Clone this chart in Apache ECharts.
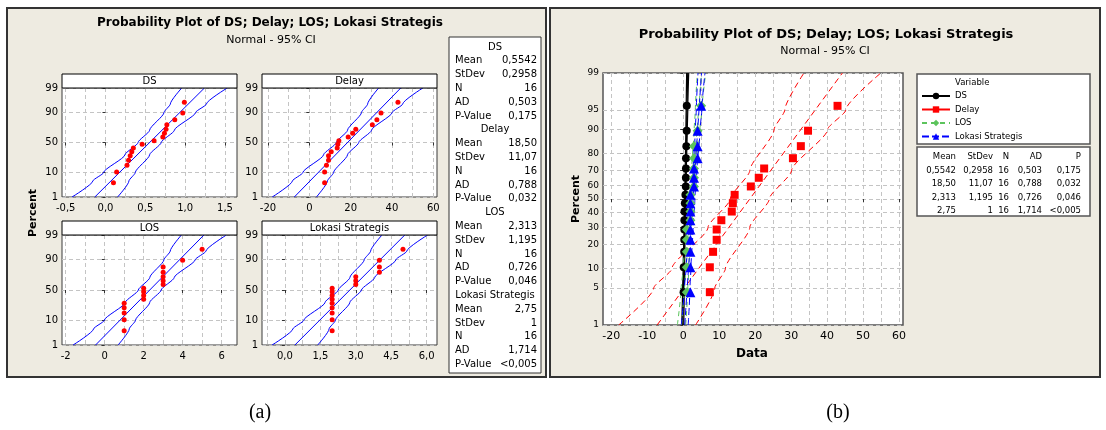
<!DOCTYPE html>
<html><head><meta charset="utf-8">
<script src="https://cdn.jsdelivr.net/npm/echarts@6/dist/echarts.min.js"></script>
<style>html,body{margin:0;padding:0;background:#fff}#c{width:1106px;height:430px}</style>
</head><body><div id="c"></div>
<script>
// ---------------- data ----------------
const variables = ['DS', 'Delay', 'LOS', 'Lokasi Strategis'];
const plotPercent = [4.27, 10.37, 16.46, 22.56, 28.66, 34.76, 40.85, 46.95, 53.05, 59.15, 65.24, 71.34, 77.44, 83.54, 89.63, 95.73];
const dsValues = [0.10, 0.14, 0.27, 0.29, 0.31, 0.33, 0.35, 0.46, 0.61, 0.72, 0.74, 0.76, 0.77, 0.87, 0.97, 0.99];
const delayValues = [7.4, 7.4, 8.3, 9.3, 9.3, 10.6, 13.5, 13.8, 14.3, 18.8, 21.0, 22.5, 30.5, 32.7, 34.7, 42.9];
const losValues = [1, 1, 1, 1, 1, 2, 2, 2, 2, 3, 3, 3, 3, 3, 4, 5];
const lokasiValues = [2, 2, 2, 2, 2, 2, 2, 2, 2, 3, 3, 3, 4, 4, 4, 5];

const fitPercent = [1, 99];
const dsFit = [-0.134, 1.242];
const delayFit = [-7.25, 44.25];
const losFit = [-0.467, 5.093];
const lokasiFit = [0.424, 5.076];

const bandPercent = [1, 5, 10, 30, 50, 70, 90, 95, 99];
const dsLower = [-0.420, -0.159, -0.024, 0.244, 0.409, 0.554, 0.735, 0.814, 0.957];
const dsUpper = [0.152, 0.294, 0.374, 0.554, 0.699, 0.865, 1.132, 1.267, 1.528];
const delayLower = [-17.94, -8.19, -3.12, 6.89, 13.08, 18.50, 25.26, 28.23, 33.56];
const delayUpper = [3.44, 8.77, 11.74, 18.50, 23.92, 30.11, 40.12, 45.19, 54.94];
const losLower = [-1.621, -0.568, -0.021, 1.059, 1.727, 2.313, 3.043, 3.363, 3.938];
const losUpper = [0.688, 1.263, 1.583, 2.313, 2.899, 3.567, 4.647, 5.194, 6.247];
const lokasiLower = [-0.542, 0.339, 0.797, 1.701, 2.26, 2.75, 3.361, 3.629, 4.11];
const lokasiUpper = [1.39, 1.871, 2.139, 2.75, 3.24, 3.799, 4.703, 5.161, 6.042];

const statMean = ['0,5542', '18,50', '2,313', '2,75'];
const statStDev = ['0,2958', '11,07', '1,195', '1'];
const statN = ['16', '16', '16', '16'];
const statAD = ['0,503', '0,788', '0,726', '1,714'];
const statP = ['0,175', '0,032', '0,046', '<0,005'];

const panelPercentTicks = [1, 10, 50, 90, 99];
const mainPercentTicks = [1, 5, 10, 20, 30, 40, 50, 60, 70, 80, 90, 95, 99];
const dsTicks = [-0.5, 0, 0.5, 1, 1.5];
const dsGridVals = [-0.5, -0.25, 0, 0.25, 0.5, 0.75, 1, 1.25, 1.5];
const delayTicks = [-20, 0, 20, 40, 60];
const delayGridVals = [-20, -10, 0, 10, 20, 30, 40, 50, 60];
const losTicks = [-2, 0, 2, 4, 6];
const losGridVals = [-2, -1, 0, 1, 2, 3, 4, 5, 6];
const lokasiTicks = [0, 1.5, 3, 4.5, 6];
const lokasiGridVals = [-0.75, 0, 0.75, 1.5, 2.25, 3, 3.75, 4.5, 5.25, 6];
const mainTicks = [-20, -10, 0, 10, 20, 30, 40, 50, 60];
const mainGridVals = [-20, -15, -10, -5, 0, 5, 10, 15, 20, 25, 30, 35, 40, 45, 50, 55, 60];

// ---------------- helpers ----------------
function probit(p) {
  const a = [-3.969683028665376e+01, 2.209460984245205e+02, -2.759285104469687e+02, 1.383577518672690e+02, -3.066479806614716e+01, 2.506628277459239e+00];
  const b = [-5.447609879822406e+01, 1.615858368580409e+02, -1.556989798598866e+02, 6.680131188771972e+01, -1.328068155288572e+01];
  const c = [-7.784894002430293e-03, -3.223964580411365e-01, -2.400758277161838e+00, -2.549732516348079e+00, 4.374664141464968e+00, 2.938163982698783e+00];
  const d = [7.784695709041462e-03, 3.224671290700398e-01, 2.445134137142996e+00, 3.754408661907416e+00];
  const pl = 0.02425, ph = 1 - pl;
  let q, r;
  if (p < pl) { q = Math.sqrt(-2 * Math.log(p)); return (((((c[0]*q+c[1])*q+c[2])*q+c[3])*q+c[4])*q+c[5]) / ((((d[0]*q+d[1])*q+d[2])*q+d[3])*q+1); }
  if (p > ph) { q = Math.sqrt(-2 * Math.log(1 - p)); return -(((((c[0]*q+c[1])*q+c[2])*q+c[3])*q+c[4])*q+c[5]) / ((((d[0]*q+d[1])*q+d[2])*q+d[3])*q+1); }
  q = p - 0.5; r = q * q;
  return (((((a[0]*r+a[1])*r+a[2])*r+a[3])*r+a[4])*r+a[5])*q / (((((b[0]*r+b[1])*r+b[2])*r+b[3])*r+b[4])*r+1);
}
const zp = p => probit(p / 100);
const pts = (xs, ps) => xs.map((x, i) => [x, zp(ps[i])]);
const ZMIN = zp(1), ZMAX = zp(99);
const FONT = 'DejaVu Sans';
const GRIDLINE = { color: '#C4C4C4', type: [4, 3], width: 1 };

const varValues = [dsValues, delayValues, losValues, lokasiValues];
const varFit = [dsFit, delayFit, losFit, lokasiFit];
const varLower = [dsLower, delayLower, losLower, lokasiLower];
const varUpper = [dsUpper, delayUpper, losUpper, lokasiUpper];
const varTicks = [dsTicks, delayTicks, losTicks, lokasiTicks];
const varGridVals = [dsGridVals, delayGridVals, losGridVals, lokasiGridVals];
const commaFmt = v => v.toFixed(1).replace('.', ',');
const intFmt = v => String(Math.round(v));
const varFmt = [commaFmt, intFmt, intFmt, commaFmt];
const varRange = [[-0.546, 1.651], [-22.9, 61.8], [-2.19, 6.79], [-0.97, 6.44]];
const subGrids = [
  { left: 62, top: 88, width: 175, height: 109 },
  { left: 262, top: 88, width: 175, height: 109 },
  { left: 62, top: 235, width: 175, height: 110 },
  { left: 262, top: 235, width: 175, height: 110 }
];
const mainGrid = { left: 603, top: 73, width: 300, height: 252 };

function pctFmt(list) {
  return v => { const p = list.find(q => Math.abs(zp(q) - v) < 1e-6); return p === undefined ? '' : String(p); };
}
function xAxes(g, range, ticks, gvals, fmt, fs, margin) {
  return [
    { type: 'value', gridIndex: g, min: range[0], max: range[1], position: 'bottom',
      axisLine: { show: false }, splitLine: { show: false },
      axisTick: { show: true, length: 3, customValues: ticks, lineStyle: { color: '#333' } },
      axisLabel: { customValues: ticks, formatter: fmt, fontFamily: FONT, fontSize: fs, color: '#000', margin: margin } },
    { type: 'value', gridIndex: g, min: range[0], max: range[1], position: 'bottom',
      axisLine: { show: false }, axisLabel: { show: false },
      axisTick: { show: false, customValues: gvals },
      splitLine: { show: true, lineStyle: GRIDLINE } }
  ];
}
function yAxis(g, list, fs) {
  const vals = list.map(zp);
  return { type: 'value', gridIndex: g, min: ZMIN, max: ZMAX, position: 'left',
    axisLine: { show: false },
    axisTick: { show: true, length: 3, customValues: vals, lineStyle: { color: '#333' } },
    axisLabel: { customValues: vals, formatter: pctFmt(list), fontFamily: FONT, fontSize: fs, color: '#000', margin: 4 },
    splitLine: { show: true, lineStyle: GRIDLINE } };
}

// ---------------- axes & grids ----------------
const grids = [], xAxis = [], yAxisArr = [];
subGrids.forEach((gr, g) => {
  grids.push(Object.assign({ show: true, backgroundColor: '#fff', borderColor: '#3a3a3a', borderWidth: 1 }, gr));
  xAxis.push(...xAxes(g, varRange[g], varTicks[g], varGridVals[g], varFmt[g], 10, 6));
  yAxisArr.push(yAxis(g, panelPercentTicks, 10));
});
grids.push(Object.assign({ show: true, backgroundColor: '#fff', borderColor: '#555', borderWidth: 1.5 }, mainGrid));
xAxis.push(...xAxes(4, [-22.3, 61.1], mainTicks, mainGridVals, intFmt, 11, 6));
yAxisArr.push(yAxis(4, mainPercentTicks, 9));

// ---------------- series ----------------
const mainStyle = [
  { color: '#000000', symbol: 'circle', size: 8, type: 'solid', width: 1.2 },
  { color: '#FF0000', symbol: 'rect', size: 8, type: [6, 4], width: 1 },
  { color: '#5CC45C', symbol: 'diamond', size: 10, type: [5, 4], width: 1 },
  { color: '#0000FF', symbol: 'triangle', size: 10, type: [7, 3], width: 1 }
];
const series = [];
variables.forEach((name, v) => {
  const st = mainStyle[v];
  const base = { type: 'line', name, xAxisIndex: 8, yAxisIndex: 4, symbol: st.symbol, showSymbol: false,
    symbolSize: st.size, itemStyle: { color: st.color }, lineStyle: { color: st.color, width: st.width, type: st.type },
    silent: true, z: 2 };
  series.push(Object.assign({}, base, { data: pts(varFit[v], fitPercent) }));
  series.push(Object.assign({}, base, { smooth: 0.2, smoothMonotone: 'y', data: pts(varLower[v], bandPercent) }));
  series.push(Object.assign({}, base, { smooth: 0.2, smoothMonotone: 'y', data: pts(varUpper[v], bandPercent) }));
});
variables.forEach((name, v) => {
  const st = mainStyle[v];
  series.push({ type: 'scatter', name, xAxisIndex: 8, yAxisIndex: 4, symbol: st.symbol, symbolSize: st.size,
    itemStyle: { color: st.color, opacity: 1 }, silent: true, z: 3 + v, data: pts(varValues[v], plotPercent) });
});
variables.forEach((name, g) => {
  const base = { type: 'line', xAxisIndex: 2 * g, yAxisIndex: g, symbol: 'none', silent: true,
    lineStyle: { color: '#0000FF', width: 1 }, z: 2 };
  series.push(Object.assign({}, base, { data: pts(varFit[g], fitPercent) }));
  series.push(Object.assign({}, base, { smooth: 0.2, smoothMonotone: 'y', data: pts(varLower[g], bandPercent) }));
  series.push(Object.assign({}, base, { smooth: 0.2, smoothMonotone: 'y', data: pts(varUpper[g], bandPercent) }));
  series.push({ type: 'scatter', xAxisIndex: 2 * g, yAxisIndex: g, symbol: 'circle', symbolSize: 5, silent: true,
    itemStyle: { color: '#FF0000', opacity: 1 }, z: 3, data: pts(varValues[g], plotPercent) });
});

// ---------------- graphics ----------------
function txt(x, y, text, size, opts) {
  opts = opts || {};
  const al = opts.align || 'center';
  return { type: 'text', x, y, z: 100, rotation: opts.rot || 0, silent: true,
    style: { text, font: (opts.bold ? 'bold ' : '') + size + 'px "' + (opts.family || FONT) + '"', fill: '#000',
      align: al, textAlign: al, verticalAlign: 'middle', textVerticalAlign: 'middle' } };
}
function box(x, y, w, h, fill, stroke, lw, z) {
  return { type: 'rect', z: z, silent: true, shape: { x, y, width: w, height: h },
    style: { fill, stroke, lineWidth: lw } };
}
const SMALL = 8.5;
const gfx = [];
gfx.push(box(7, 8, 539, 369, '#EEEBE1', '#333', 2, -10));
gfx.push(box(550, 8, 550, 369, '#EEEBE1', '#333', 2, -10));
// left panel
gfx.push(txt(270, 23, 'Probability Plot of DS; Delay; LOS; Lokasi Strategis', 12, { bold: true }));
gfx.push(txt(271, 40, 'Normal - 95% CI', 11));
gfx.push(txt(33, 213, 'Percent', 11, { bold: true, rot: Math.PI / 2 }));
subGrids.forEach((gr, g) => {
  gfx.push(box(gr.left, gr.top - 14, gr.width, 14, '#fff', '#000', 1, 90));
  gfx.push(txt(gr.left + gr.width / 2, gr.top - 7, variables[g], 10));
});
gfx.push(box(449, 37, 92, 336, '#fff', '#333', 1, 90));
const statLabels = ['Mean', 'StDev', 'N', 'AD', 'P-Value'];
variables.forEach((name, v) => {
  const y0 = 47 + 6 * v * 13.8;
  gfx.push(txt(495, y0, name, 10));
  const vals = [statMean[v], statStDev[v], statN[v], statAD[v], statP[v]];
  statLabels.forEach((lab, i) => {
    gfx.push(txt(455, y0 + (i + 1) * 13.8, lab, 10, { align: 'left' }));
    gfx.push(txt(537, y0 + (i + 1) * 13.8, vals[i], 10, { align: 'right' }));
  });
});
// right panel
gfx.push(txt(826, 35, 'Probability Plot of DS; Delay; LOS; Lokasi Strategis', 13, { bold: true }));
gfx.push(txt(825, 51, 'Normal - 95% CI', 11));
gfx.push(txt(576, 199, 'Percent', 11, { bold: true, rot: Math.PI / 2 }));
gfx.push(txt(752, 354, 'Data', 12, { bold: true }));
gfx.push(box(917, 74, 173, 70, '#fff', '#555', 1.5, 90));
gfx.push(txt(955, 83, 'Variable', SMALL, { align: 'left' }));
gfx.push(box(917, 147, 173, 69, '#fff', '#555', 1.5, 90));
const colHead = ['Mean', 'StDev', 'N', 'AD', 'P'];
const colX = [956, 993, 1009, 1042, 1081];
colHead.forEach((h, i) => gfx.push(txt(colX[i], 157, h, SMALL, { align: 'right' })));
variables.forEach((name, v) => {
  const vals = [statMean[v], statStDev[v], statN[v], statAD[v], statP[v]];
  vals.forEach((s, i) => gfx.push(txt(colX[i], 170.5 + v * 13.4, s, SMALL, { align: 'right' })));
});
// captions
gfx.push(txt(260, 413, '(a)', 20, { family: 'Liberation Serif' }));
gfx.push(txt(838, 413, '(b)', 20, { family: 'Liberation Serif' }));

const option = {
  backgroundColor: '#ffffff',
  animation: false,
  grid: grids,
  xAxis: xAxis,
  yAxis: yAxisArr,
  legend: {
    left: 921, top: 90, orient: 'vertical', itemGap: 1.5, itemWidth: 28, itemHeight: 8, padding: 0,
    selectedMode: false, z: 120,
    textStyle: { fontFamily: FONT, fontSize: SMALL, color: '#000', lineHeight: 12 },
    data: [
      { name: 'DS' },
      { name: 'Delay', lineStyle: { type: 'solid' } },
      { name: 'LOS' },
      { name: 'Lokasi Strategis' }
    ]
  },
  graphic: { elements: gfx },
  series: series
};
const chart = echarts.init(document.getElementById('c'), null, { renderer: 'canvas' });
chart.setOption(option);
</script>
</body></html>
